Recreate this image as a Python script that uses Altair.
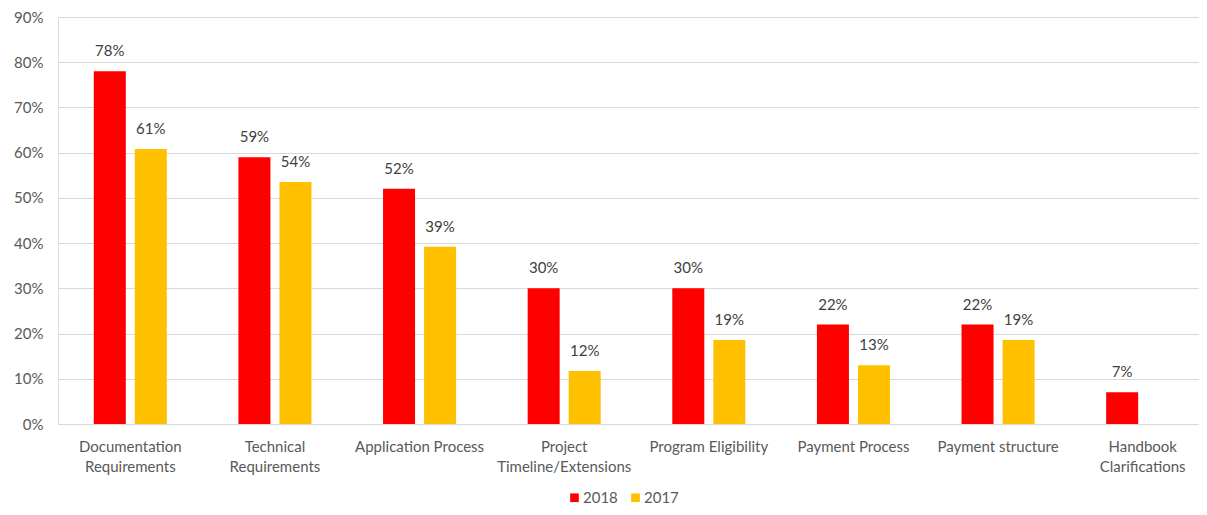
import altair as alt
import pandas as pd

categories = [
    "Documentation\nRequirements",
    "Technical\nRequirements",
    "Application Process",
    "Project\nTimeline/Extensions",
    "Program Eligibility",
    "Payment Process",
    "Payment structure",
    "Handbook\nClarifications",
]
values_2018 = [78, 59, 52, 30, 30, 22, 22, 7]
values_2017 = [60.8, 53.5, 39.2, 11.7, 18.6, 13.0, 18.6, None]
series = ["2018", "2017"]
colors = ["#FF0000", "#FFC000"]

rows = []
for c, a, b in zip(categories, values_2018, values_2017):
    rows.append({"category": c, "year": "2018", "value": a / 100})
    if b is not None:
        rows.append({"category": c, "year": "2017", "value": b / 100})
df = pd.DataFrame(rows)

FONT = "Lato"

base = alt.Chart(df).encode(
    x=alt.X(
        "category:N",
        sort=categories,
        scale=alt.Scale(paddingInner=0.495, paddingOuter=0.2475),
        axis=alt.Axis(
            title=None,
            labelAngle=0,
            labelExpr="split(datum.label, '\\n')",
            labelColor="#595959",
            labelFont=FONT,
            labelFontSize=15,
            labelLineHeight=20,
            labelPadding=15,
            ticks=False,
            domain=True,
            domainColor="#D9D9D9",
            grid=False,
        ),
    ),
    xOffset=alt.XOffset("year:N", sort=series, scale=alt.Scale(domain=series, paddingInner=0.22)),
    y=alt.Y(
        "value:Q",
        scale=alt.Scale(domain=[0, 0.9], nice=False),
        axis=alt.Axis(
            title=None,
            format=".0%",
            values=[i / 10 for i in range(10)],
            labelColor="#595959",
            labelFont=FONT,
            labelFontSize=15,
            labelPadding=15,
            ticks=False,
            domain=False,
            gridColor="#D9D9D9",
            gridWidth=1,
        ),
    ),
)

bars = base.mark_bar().encode(
    color=alt.Color(
        "year:N",
        sort=series,
        scale=alt.Scale(domain=series, range=colors),
        legend=alt.Legend(
            title=None,
            orient="none",
            legendX=509,
            legendY=473,
            direction="horizontal",
            symbolType="square",
            symbolSize=75,
            symbolStrokeWidth=0,
            labelOffset=1,
            labelFont=FONT,
            labelFontSize=15,
            labelColor="#595959",
            columnPadding=10,
        ),
    )
)

labels = base.mark_text(
    baseline="bottom", dy=-12, font=FONT, fontSize=15, color="#404040"
).encode(text=alt.Text("value:Q", format=".0%"))

chart = (
    alt.layer(bars, labels)
    .properties(
        width=1157,
        height=407,
        autosize=alt.AutoSizeParams(type="none"),
        padding={"left": 50, "top": 9, "right": -16, "bottom": 83},
    )
    .configure_view(stroke=None)
    .configure(background="white")
)

chart.save("out.html", embed_options={"renderer": "svg", "actions": False})
